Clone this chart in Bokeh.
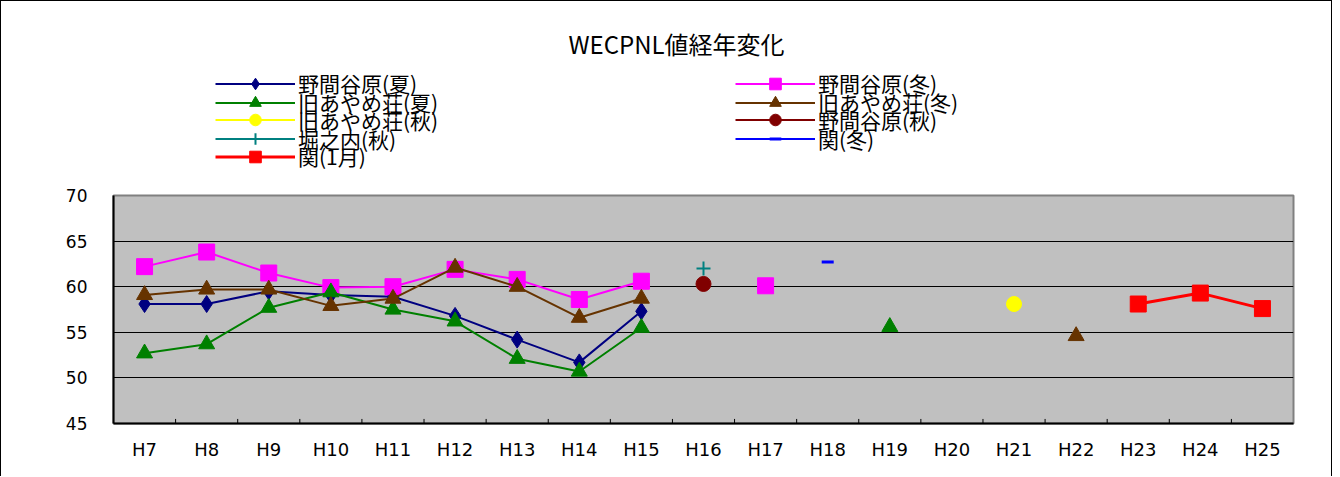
from bokeh.plotting import figure
from bokeh.layouts import column
from bokeh.models import (FactorRange, Legend, LegendItem, Label, ColumnDataSource,
                          FixedTicker)
from bokeh.transform import dodge
from bokeh.embed import file_html
from bokeh.resources import INLINE

nan = float("nan")

categories = ["H7", "H8", "H9", "H10", "H11", "H12", "H13", "H14", "H15", "H16",
              "H17", "H18", "H19", "H20", "H21", "H22", "H23", "H24", "H25"]

nomaya_summer = [58.1, 58.1, 59.5, 59.1, 58.9, 56.8, 54.2, 51.7, 57.3, nan,
                 nan, nan, nan, nan, nan, nan, nan, nan, nan]
nomaya_winter = [62.2, 63.8, 61.5, 59.9, 60.0, 61.9, 60.8, 58.6, 60.6, nan,
                 60.1, nan, nan, nan, nan, nan, nan, nan, nan]
ayame_summer = [52.7, 53.7, 57.7, 59.4, 57.5, 56.2, 52.1, 50.7, 55.5, nan,
                nan, nan, 55.6, nan, nan, nan, nan, nan, nan]
ayame_winter = [59.1, 59.7, 59.7, 57.9, 58.7, 62.1, 60.0, 56.6, 58.7, nan,
                nan, nan, nan, nan, nan, 54.6, nan, nan, nan]
ayame_autumn = [nan, nan, nan, nan, nan, nan, nan, nan, nan, nan,
                nan, nan, nan, nan, 58.1, nan, nan, nan, nan]
nomaya_autumn = [nan, nan, nan, nan, nan, nan, nan, nan, nan, 60.3,
                 nan, nan, nan, nan, nan, nan, nan, nan, nan]
horinouchi_autumn = [nan, nan, nan, nan, nan, nan, nan, nan, nan, 62.0,
                     nan, nan, nan, nan, nan, nan, nan, nan, nan]
seki_winter = [nan, nan, nan, nan, nan, nan, nan, nan, nan, nan,
               nan, 62.7, nan, nan, nan, nan, nan, nan, nan]
seki_january = [nan, nan, nan, nan, nan, nan, nan, nan, nan, nan,
                nan, nan, nan, nan, nan, nan, 58.1, 59.3, 57.6]

y_ticks = [45, 50, 55, 60, 65, 70]
title_text = "WECPNL値経年変化"

series = [
    ("野間谷原(夏)", nomaya_summer, "#000080", "diamond", 17, 2),
    ("野間谷原(冬)", nomaya_winter, "#FF00FF", "square", 16, 2),
    ("旧あやめ荘(夏)", ayame_summer, "#008000", "triangle", 16, 2),
    ("旧あやめ荘(冬)", ayame_winter, "#663300", "triangle", 16, 2),
    ("旧あやめ荘(秋)", ayame_autumn, "#FFFF00", "circle", 15, 2),
    ("野間谷原(秋)", nomaya_autumn, "#800000", "circle", 15, 2),
    ("堀之内(秋)", horinouchi_autumn, "#008080", "cross", 14, 2),
    ("関(冬)", seki_winter, "#0000FF", "dash", 12, 2),
    ("関(1月)", seki_january, "#FF0000", "square", 16, 3),
]

W = 1332
TOP_H = 183
MAIN_H = 293
B_LEFT, B_RIGHT = 112, 40
FRAME_W = W - B_LEFT - B_RIGHT


def add_series(fig, xs, vals, color, marker, size, lw):
    src = ColumnDataSource(dict(x=xs, y=vals))
    r1 = fig.line("x", "y", source=src, line_color=color, line_width=lw)
    if marker in ("cross", "dash"):
        r2 = fig.scatter("x", "y", source=src, marker=marker, size=size,
                         line_color=color, line_width=2 if marker == "cross" else 3)
    else:
        r2 = fig.scatter("x", "y", source=src, marker=marker, size=size,
                         fill_color=color, line_color=color)
    return r1, r2


# ---- header: title + legend ----
top = figure(width=W, height=TOP_H, x_range=(0, FRAME_W), y_range=(0, TOP_H),
             x_axis_type=None, y_axis_type=None, output_backend="svg",
             toolbar_location=None, min_border_left=B_LEFT, min_border_right=B_RIGHT,
             min_border_top=0, min_border_bottom=0)
top.outline_line_color = None
top.grid.grid_line_color = None
top.styles = {"border-top": "1px solid black", "border-left": "1px solid black",
              "border-right": "1px solid black"}

top.add_layout(Label(x=563, y=141, text=title_text, text_align="center",
                     text_baseline="middle", text_font="Noto Sans CJK JP",
                     text_font_size="24px", text_color="black"))

row_y = [86, 67, 49.5, 30.5, 13]
col_x = [102, 622]
for i, (name, vals, color, marker, size, lw) in enumerate(series):
    r1, r2 = add_series(top, [nan], [nan], color, marker, size, lw)
    col = i % 2
    row = i // 2
    lg = Legend(items=[LegendItem(label=name, renderers=[r1, r2])],
                location=(col_x[col], row_y[row]), padding=0, spacing=0, margin=0,
                glyph_width=80, glyph_height=29, label_height=18, label_standoff=3,
                label_text_font="Noto Sans CJK JP", label_text_font_size="21px",
                label_text_color="black", border_line_color=None,
                background_fill_alpha=0)
    top.add_layout(lg)

# ---- main chart ----
p = figure(width=W, height=MAIN_H, x_range=FactorRange(*categories, range_padding=0),
           y_range=(45, 70), output_backend="svg", toolbar_location=None,
           min_border_left=B_LEFT, min_border_right=B_RIGHT, min_border_top=12,
           min_border_bottom=53)
p.styles = {"border-left": "1px solid black", "border-right": "1px solid black"}
p.background_fill_color = "#C0C0C0"
p.border_fill_color = "white"
p.outline_line_color = "#808080"
p.outline_line_width = 2

p.xgrid.grid_line_color = None
p.ygrid.ticker = FixedTicker(ticks=y_ticks)
p.ygrid.grid_line_color = "black"
p.ygrid.grid_line_width = 1

p.yaxis.ticker = FixedTicker(ticks=y_ticks, minor_ticks=[])
p.yaxis.axis_line_width = 2
p.yaxis.axis_line_color = "black"
p.yaxis.major_tick_in = 0
p.yaxis.major_tick_out = 0
p.yaxis.minor_tick_line_color = None
p.yaxis.major_label_standoff = 26
p.yaxis.major_label_text_font = "DejaVu Sans"
p.yaxis.major_label_text_font_size = "17px"
p.yaxis.major_label_text_color = "black"

p.xaxis.axis_line_width = 2
p.xaxis.axis_line_color = "black"
p.xaxis.major_tick_line_color = None
p.xaxis.major_label_standoff = 9
p.xaxis.major_label_text_font = "DejaVu Sans"
p.xaxis.major_label_text_font_size = "18px"
p.xaxis.major_label_text_color = "black"

tick_src = ColumnDataSource(dict(c=categories[:-1], y0=[45] * 18, y1=[45.5] * 18))
p.segment(x0=dodge("c", 0.5, range=p.x_range), x1=dodge("c", 0.5, range=p.x_range),
          y0="y0", y1="y1", source=tick_src, line_color="black", line_width=1)

for name, vals, color, marker, size, lw in series:
    add_series(p, categories, vals, color, marker, size, lw)

layout = column(top, p, spacing=0)
open("out.html", "w").write(file_html(layout, INLINE))
